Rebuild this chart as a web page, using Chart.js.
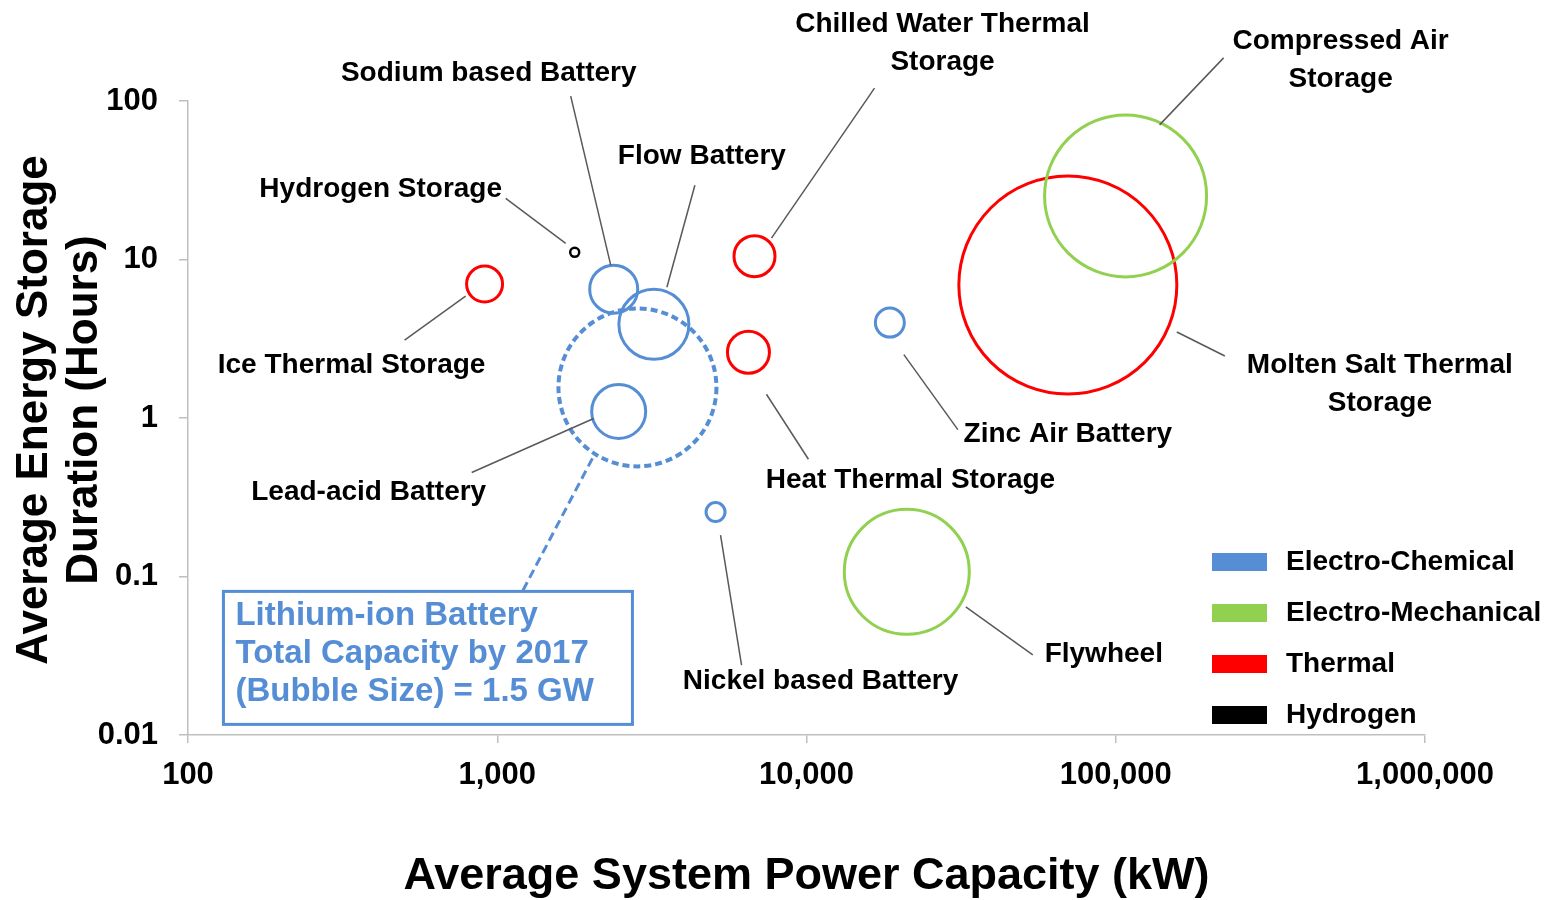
<!DOCTYPE html>
<html>
<head>
<meta charset="utf-8">
<script src="https://cdn.jsdelivr.net/npm/chart.js@4.4.1/dist/chart.umd.min.js"></script>
<style>
  html, body { margin: 0; padding: 0; background: #fff; }
  #wrap { width: 1545px; height: 900px; }
</style>
</head>
<body>
<div id="wrap"><canvas id="storageChart"></canvas></div>
<script>
// data ---------------------------------------------------------------------
const technologies = [
  "Ice Thermal Storage", "Hydrogen Storage", "Sodium based Battery", "Flow Battery",
  "Lithium-ion Battery", "Lead-acid Battery", "Nickel based Battery",
  "Chilled Water Thermal Storage", "Heat Thermal Storage", "Zinc Air Battery",
  "Flywheel", "Compressed Air Storage", "Molten Salt Thermal Storage"
];
const technologyCategory = [
  "Thermal", "Hydrogen", "Electro-Chemical", "Electro-Chemical",
  "Electro-Chemical", "Electro-Chemical", "Electro-Chemical",
  "Thermal", "Thermal", "Electro-Chemical",
  "Electro-Mechanical", "Electro-Mechanical", "Thermal"
];
const powerKW = [910, 1780, 2380, 3210, 2840, 2470, 5080, 6790, 6490, 18600, 21100, 107600, 70000];
const durationHours = [7.0, 11.1, 6.5, 3.9, 1.56, 1.1, 0.255, 10.5, 2.6, 4.0, 0.107, 25.2, 6.9];
const bubbleRadius = [18, 4.5, 24, 35, 79, 27, 9.5, 20.5, 21, 14.5, 62.5, 81, 109];

const categories = ["Electro-Chemical", "Electro-Mechanical", "Thermal", "Hydrogen"];
const xTicks = [100, 1000, 10000, 100000, 1000000];
const yTicks = [0.01, 0.1, 1, 10, 100];
const yTickLabels = ["0.01", "0.1", "1", "10", "100"];
const xTitle = "Average System Power Capacity (kW)";
const yTitle = ["Average Energy Storage", "Duration (Hours)"];
const highlighted = "Lithium-ion Battery";

// styles -------------------------------------------------------------------
const categoryColors = {
  "Electro-Chemical": "#558ED5",
  "Electro-Mechanical": "#92D050",
  "Thermal": "#FF0000",
  "Hydrogen": "#000000"
};
const FONT = "'Liberation Sans', Arial, sans-serif";

// callout placement, pixel offsets from each bubble centre
const callouts = {
  "Ice Thermal Storage":           { text: ["Ice Thermal Storage"], t: [-133, 81], line: [[-80, 56], [-19, 12]] },
  "Hydrogen Storage":              { text: ["Hydrogen Storage"], t: [-194, -63], line: [[-69, -54], [-9, -9]] },
  "Sodium based Battery":          { text: ["Sodium based Battery"], t: [-125, -216], line: [[-43, -193], [-3, -24]] },
  "Flow Battery":                  { text: ["Flow Battery"], t: [48, -168], line: [[41, -139], [13, -37]] },
  "Lead-acid Battery":             { text: ["Lead-acid Battery"], t: [-250, 81], line: [[-147, 61], [-25, 7]] },
  "Nickel based Battery":          { text: ["Nickel based Battery"], t: [105, 169], line: [[26, 153], [5, 23]] },
  "Chilled Water Thermal Storage": { text: ["Chilled Water Thermal", "Storage"], t: [188, -232], line: [[120, -168], [17, -18]] },
  "Heat Thermal Storage":          { text: ["Heat Thermal Storage"], t: [162, 128], line: [[60, 107], [18, 42]] },
  "Zinc Air Battery":              { text: ["Zinc Air Battery"], t: [178, 112], line: [[68, 107], [14, 32]] },
  "Flywheel":                      { text: ["Flywheel"], t: [197, 82], line: [[126, 83], [59, 35]] },
  "Compressed Air Storage":        { text: ["Compressed Air", "Storage"], t: [215, -155], line: [[98, -138], [34, -71]] },
  "Molten Salt Thermal Storage":   { text: ["Molten Salt Thermal", "Storage"], t: [312, 80], line: [[157, 71], [109, 47]] }
};
const lithiumNote = ["Lithium-ion Battery", "Total Capacity by 2017", "(Bubble Size) = 1.5 GW"];

document.addEventListener("DOMContentLoaded", function () {
  const ctx = document.getElementById("storageChart").getContext("2d");

  // build datasets by category; lithium-ion gets its own dashed dataset
  const datasets = categories.map(function (cat) {
    const pts = [];
    technologies.forEach(function (name, i) {
      if (technologyCategory[i] === cat && name !== highlighted) {
        pts.push({ x: powerKW[i], y: durationHours[i], r: bubbleRadius[i], name: name });
      }
    });
    return {
      label: cat,
      data: pts,
      backgroundColor: "rgba(0,0,0,0)",
      borderColor: categoryColors[cat],
      borderWidth: cat === "Hydrogen" ? 2.5 : 3
    };
  });
  const li = technologies.indexOf(highlighted);
  datasets.push({
    label: highlighted,
    data: [{ x: powerKW[li], y: durationHours[li], r: bubbleRadius[li], name: highlighted }],
    backgroundColor: "rgba(0,0,0,0)",
    borderColor: categoryColors[technologyCategory[li]],
    borderWidth: 4,
    dashed: true
  });

  // dashed outline for the highlighted bubble
  const dashPlugin = {
    id: "dashPlugin",
    beforeDatasetDraw(chart, args) {
      if (chart.data.datasets[args.index].dashed) {
        chart.ctx.save();
        chart.ctx.setLineDash([7, 4]);
      }
    },
    afterDatasetDraw(chart, args) {
      if (chart.data.datasets[args.index].dashed) chart.ctx.restore();
    }
  };

  function bubbleCentre(chart, name) {
    const i = technologies.indexOf(name);
    return [chart.scales.x.getPixelForValue(powerKW[i]), chart.scales.y.getPixelForValue(durationHours[i])];
  }

  // y title, callout labels, leader lines, lithium note and legend
  const annotatePlugin = {
    id: "annotatePlugin",
    afterDraw(chart) {
      const c = chart.ctx;
      const area = chart.chartArea;
      c.save();

      // two-line rotated y axis title
      c.save();
      c.translate(35, (area.top + area.bottom) / 2 - 8);
      c.rotate(-Math.PI / 2);
      c.fillStyle = "#000";
      c.font = "bold 44px " + FONT;
      c.textAlign = "center";
      c.textBaseline = "middle";
      yTitle.forEach(function (t, k) { c.fillText(t, 0, k * 50); });
      c.restore();

      // leader lines + labels
      Object.keys(callouts).forEach(function (name) {
        const co = callouts[name];
        const [cx, cy] = bubbleCentre(chart, name);
        c.strokeStyle = "#595959";
        c.lineWidth = 1.5;
        c.beginPath();
        c.moveTo(cx + co.line[0][0], cy + co.line[0][1]);
        c.lineTo(cx + co.line[1][0], cy + co.line[1][1]);
        c.stroke();
        c.fillStyle = "#000";
        c.font = "bold 28px " + FONT;
        c.textAlign = "center";
        c.textBaseline = "middle";
        co.text.forEach(function (t, k) {
          c.fillText(t, cx + co.t[0], cy + co.t[1] + k * 38);
        });
      });

      // lithium-ion note box and dashed connector
      const [lx, ly] = bubbleCentre(chart, highlighted);
      const blue = categoryColors["Electro-Chemical"];
      c.strokeStyle = blue;
      c.lineWidth = 3;
      c.setLineDash([9, 5]);
      c.beginPath();
      c.moveTo(lx - 45, ly + 71);
      c.lineTo(lx - 115, ly + 204);
      c.stroke();
      c.setLineDash([]);
      c.lineWidth = 3;
      c.strokeRect(lx - 414, ly + 204, 409, 133);
      c.fillStyle = blue;
      c.font = "bold 33px " + FONT;
      c.textAlign = "left";
      lithiumNote.forEach(function (t, k) {
        c.fillText(t, lx - 402, ly + 229 + k * 38);
      });

      // legend inside plot area
      c.font = "bold 28px " + FONT;
      c.textAlign = "left";
      c.textBaseline = "middle";
      categories.forEach(function (cat, k) {
        const yy = area.bottom - 173 + k * 51;
        c.fillStyle = categoryColors[cat];
        c.fillRect(area.right - 213, yy - 9, 55, 18);
        c.fillStyle = "#000";
        c.fillText(cat, area.right - 139, yy);
      });
      c.restore();
    }
  };

  const axisGrey = "#BFBFBF";

  const config = {
    type: "bubble",
    data: { datasets: datasets },
    options: {
      responsive: true,
      maintainAspectRatio: false,
      animation: false,
      events: [],
      // big bubbles would otherwise push the plot area in
      layout: { autoPadding: false, padding: { top: 101, right: 120, left: 0, bottom: 0 } },
      plugins: {
        legend: { display: false },
        tooltip: { enabled: false }
      },
      scales: {
        x: {
          type: "logarithmic",
          min: 100,
          max: 1000000,
          afterBuildTicks: function (scale) {
            scale.ticks = xTicks.map(function (v) { return { value: v }; });
          },
          afterFit: function (scale) { scale.height = 165; },
          grid: { drawOnChartArea: false, tickLength: 8, color: axisGrey, lineWidth: 1.5 },
          border: { color: axisGrey, width: 1.5 },
          ticks: {
            padding: 14,
            maxRotation: 0,
            color: "#000",
            font: { family: FONT, size: 31, weight: "bold" },
            callback: function (v) { return Number(v).toLocaleString("en-US"); }
          },
          title: {
            display: true,
            text: xTitle,
            color: "#000",
            font: { family: FONT, size: 45, weight: "bold", lineHeight: 1 },
            padding: { top: 0, bottom: 1 }
          }
        },
        y: {
          type: "logarithmic",
          min: 0.01,
          max: 100,
          afterBuildTicks: function (scale) {
            scale.ticks = yTicks.map(function (v) { return { value: v }; });
          },
          afterFit: function (scale) { scale.width = 188; },
          grid: { drawOnChartArea: false, tickLength: 9, color: axisGrey, lineWidth: 1.5 },
          border: { color: axisGrey, width: 1.5 },
          ticks: {
            padding: 21,
            color: "#000",
            font: { family: FONT, size: 31, weight: "bold" },
            callback: function (v) {
              const k = yTicks.indexOf(Number(v));
              return k >= 0 ? yTickLabels[k] : "";
            }
          }
        }
      }
    },
    plugins: [dashPlugin, annotatePlugin]
  };

  new Chart(ctx, config);
});
</script>
</body>
</html>
